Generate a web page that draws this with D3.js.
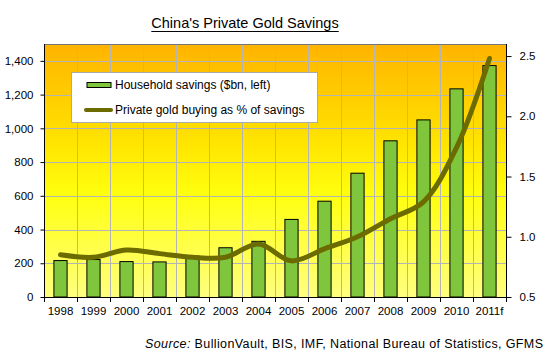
<!DOCTYPE html>
<html>
<head>
<meta charset="utf-8">
<script src="https://cdn.jsdelivr.net/npm/d3@7/dist/d3.min.js"></script>
<style>
  html, body { margin: 0; padding: 0; background: #fff; }
  svg { display: block; font-family: "Liberation Sans", Arial, sans-serif; }
</style>
</head>
<body>
<svg id="chart" width="551" height="359"></svg>
<script>
const categories = ["1998","1999","2000","2001","2002","2003","2004","2005","2006","2007","2008","2009","2010","2011f"];
const savings = [216, 222, 210, 208, 242, 292, 330, 460, 568, 734, 926, 1050, 1234, 1372];
const goldPct = [0.85, 0.83, 0.89, 0.86, 0.83, 0.83, 0.94, 0.80, 0.90, 1.00, 1.15, 1.29, 1.74, 2.48];
const leftTicks = [0, 200, 400, 600, 800, 1000, 1200, 1400];
const rightTicks = [0.5, 1.0, 1.5, 2.0, 2.5];
const titleText = "China's Private Gold Savings";
const legendLabels = ["Household savings ($bn, left)", "Private gold buying as % of savings"];

const svg = d3.select("#chart");
const m = {left: 44, right: 506, top: 44, bottom: 297};

const x = d3.scaleBand().domain(categories).range([m.left, m.right]).paddingInner(0).paddingOuter(0);
const yL = d3.scaleLinear().domain([0, 1500]).range([m.bottom, m.top]);
const yR = d3.scaleLinear().domain([0.5, 2.6]).range([m.bottom, m.top]);

// gradient
const defs = svg.append("defs");
const grad = defs.append("linearGradient").attr("id", "bg").attr("x1", 0).attr("y1", 0).attr("x2", 0).attr("y2", 1);
[[0, "#FFB300"], [0.4, "#FFE600"], [0.6, "#FFFF10"], [1, "#FFFF80"]].forEach(([o, c]) =>
  grad.append("stop").attr("offset", o).attr("stop-color", c));

svg.append("rect").attr("x", m.left).attr("y", m.top)
  .attr("width", m.right - m.left).attr("height", m.bottom - m.top)
  .attr("fill", "url(#bg)");

// gridlines
const grid = svg.append("g").attr("stroke", "#b4b4b4").attr("stroke-width", 1);
leftTicks.filter(t => t > 0).forEach(t => {
  grid.append("line").attr("x1", m.left).attr("x2", m.right)
    .attr("y1", Math.round(yL(t)) + 0.5).attr("y2", Math.round(yL(t)) + 0.5);
});
categories.slice(1).forEach(c => {
  const xx = Math.round(x(c)) + 0.5;
  grid.append("line").attr("x1", xx).attr("x2", xx).attr("y1", m.top).attr("y2", m.bottom);
});

// top border
svg.append("line").attr("x1", m.left).attr("x2", m.right).attr("y1", m.top + 0.5).attr("y2", m.top + 0.5)
  .attr("stroke", "#777").attr("stroke-width", 1);

// bars
const bw = x.bandwidth() * 0.4;
svg.append("g").selectAll("rect").data(categories).join("rect")
  .attr("x", (d) => x(d) + (x.bandwidth() - bw) / 2)
  .attr("y", (d, i) => yL(savings[i]))
  .attr("width", bw)
  .attr("height", (d, i) => yL(0) - yL(savings[i]))
  .attr("fill", "#80C63C").attr("stroke", "#000").attr("stroke-width", 1);

// line
const line = d3.line()
  .x((d, i) => x(categories[i]) + x.bandwidth() / 2)
  .y(d => yR(d))
  .curve(d3.curveCatmullRom.alpha(0.5));
svg.append("path").datum(goldPct).attr("d", line)
  .attr("fill", "none").attr("stroke", "#6B6B00").attr("stroke-width", 5)
  .attr("stroke-linecap", "round").attr("stroke-linejoin", "round");

// axes
const axL = svg.append("g").attr("transform", `translate(${m.left + 0.5},0)`)
  .call(d3.axisLeft(yL).tickValues(leftTicks).tickSize(4).tickPadding(7).tickFormat(d3.format(",")));
const axR = svg.append("g").attr("transform", `translate(${m.right + 0.5},0)`)
  .call(d3.axisRight(yR).tickValues(rightTicks).tickSize(5).tickPadding(8).tickFormat(d3.format(".1f")));
const axB = svg.append("g").attr("transform", `translate(0,${m.bottom + 0.5})`)
  .call(d3.axisBottom(x).tickSize(0).tickPadding(9));
// category boundary ticks on bottom axis
const bTicks = svg.append("g").attr("stroke", "#000");
categories.concat(["end"]).forEach((c, i) => {
  const xx = (i < categories.length ? Math.round(x(c)) : m.right) + 0.5;
  bTicks.append("line").attr("x1", xx).attr("x2", xx).attr("y1", m.bottom).attr("y2", m.bottom + 5);
});
[axL, axR, axB].forEach(a => {
  a.select(".domain").attr("stroke", "#000");
  a.selectAll(".tick line").attr("stroke", "#000");
  a.selectAll("text").attr("font-family", "Liberation Sans, Arial, sans-serif")
    .attr("font-size", 11.5).attr("fill", "#000");
});
axB.select(".domain").attr("d", `M${m.left},0H${m.right}`);
axL.select(".domain").attr("d", `M0,${m.bottom}V${m.top}`);
axR.select(".domain").attr("d", `M0,${m.bottom}V${m.top}`);

// title
const t = svg.append("text").attr("x", 245).attr("y", 28).attr("text-anchor", "middle")
  .attr("font-size", 14.5).attr("fill", "#000").text(titleText);
const tb = t.node().getBBox();
svg.append("line").attr("x1", tb.x).attr("x2", tb.x + tb.width)
  .attr("y1", 31.5).attr("y2", 31.5).attr("stroke", "#000").attr("stroke-width", 1);

// legend
const lg = svg.append("g");
lg.append("rect").attr("x", 71.5).attr("y", 72.5).attr("width", 246).attr("height", 50)
  .attr("fill", "#fff").attr("stroke", "#aaa");
lg.append("rect").attr("x", 87).attr("y", 82.5).attr("width", 24).attr("height", 5)
  .attr("fill", "#80C63C").attr("stroke", "#000");
lg.append("text").attr("x", 115).attr("y", 89).attr("font-size", 12).attr("fill", "#000").text(legendLabels[0]);
lg.append("line").attr("x1", 86).attr("x2", 111).attr("y1", 110).attr("y2", 110)
  .attr("stroke", "#6B6B00").attr("stroke-width", 4).attr("stroke-linecap", "round");
lg.append("text").attr("x", 115).attr("y", 114).attr("font-size", 12).attr("fill", "#000").text(legendLabels[1]);

// source
const src = svg.append("text").attr("x", 145).attr("y", 348)
  .attr("font-size", 12.5).attr("fill", "#000")
  .attr("textLength", 398).attr("lengthAdjust", "spacing");
src.append("tspan").attr("font-style", "italic").text("Source:");
src.append("tspan").text(" BullionVault, BIS, IMF, National Bureau of Statistics, GFMS");
</script>
</body>
</html>
